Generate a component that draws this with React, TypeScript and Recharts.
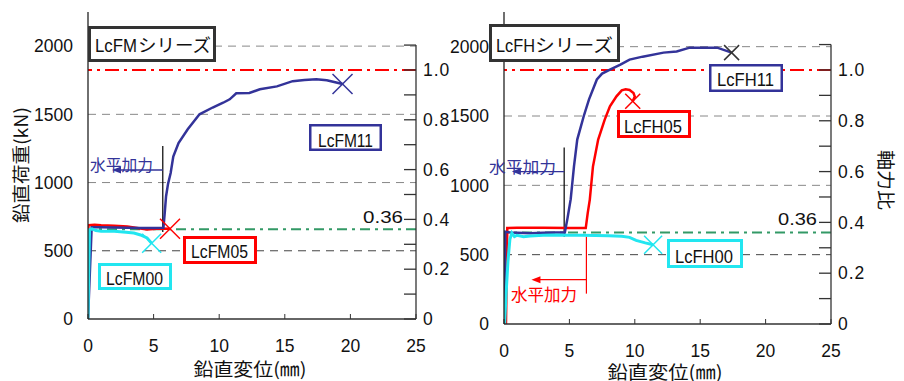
import React from 'react';
import { LineChart, Line, XAxis, YAxis, ReferenceLine } from 'recharts';

type P = [number, number];

// ---- axes ----
const xTicks = [0, 5, 10, 15, 20, 25];
const loadTicks = [0, 500, 1000, 1500, 2000];
const ratioTicks = [0, 0.1, 0.2, 0.3, 0.4, 0.5, 0.6, 0.7, 0.8, 0.9, 1.0, 1.1];
const gridLoads = [500, 1000, 1500, 2000];
const loadMax = 2250;
const ratioTop = 1.1;
const ratioFull = 1.0;
const ratioLimit = 0.36;
const n0Left = 1825;
const n0Right = 1832;

// ---- LcFM series (vertical displacement mm, vertical load kN) ----
const fm11: P[] = [
  [0, 0], [0.28, 672], [1, 672], [2, 670], [3, 668], [4, 667], [5, 667], [5.75, 668],
  [5.85, 780], [5.95, 900], [6.1, 990], [6.3, 1070], [6.5, 1190], [6.9, 1290], [7.6, 1390],
  [8.5, 1500], [9.5, 1550], [10.3, 1585], [10.8, 1610], [11.3, 1654], [12.3, 1656],
  [13.1, 1684], [14.4, 1705], [15.6, 1743], [16.5, 1752], [17.4, 1757], [18.2, 1750], [19.4, 1722],
];
const fm05: P[] = [
  [0, 0], [0.03, 688], [0.5, 690], [1, 687], [2, 684], [3, 678], [4, 664], [4.5, 656],
  [5, 660], [5.5, 664], [6.25, 662],
];
const fm00: P[] = [
  [0, 0], [0.05, 320], [0.12, 655], [0.3, 660], [0.6, 648], [1, 644], [2, 643], [2.9, 636],
  [3.5, 630], [4, 616], [4.5, 594], [4.85, 555],
];

// ---- LcFH series ----
const fh11: P[] = [
  [0, 0], [0.1, 665], [0.5, 660], [1, 658], [2, 655], [3, 658], [4, 660], [4.65, 660],
  [4.85, 760], [5.1, 900], [5.35, 1137], [5.6, 1330], [6.1, 1500], [6.5, 1620], [7.1, 1763],
  [7.5, 1806], [8.1, 1835], [8.9, 1871], [9.6, 1907], [10.6, 1928], [12.2, 1957],
  [13.2, 1965], [14.2, 1993], [16.3, 1993], [17.4, 1957],
];
const fh05: P[] = [
  [0.15, 0], [0.25, 692], [1, 694], [3, 694], [5, 692], [6.25, 692], [6.4, 800], [6.56, 897],
  [6.8, 1135], [7.2, 1330], [7.7, 1474], [8.1, 1570], [8.6, 1642], [9.0, 1685], [9.3, 1692],
  [9.6, 1688], [9.9, 1666], [10.0, 1640], [9.84, 1606],
];
const fh00: P[] = [
  [0.05, 0], [0.15, 200], [0.3, 450], [0.45, 610], [0.6, 656], [0.8, 630], [1, 640], [1.5, 630],
  [2, 635], [3, 640], [4, 642], [5, 640], [6, 640], [7, 638], [8, 636], [9, 633], [9.6, 625],
  [10.1, 603], [10.8, 585], [11.4, 572],
];

// ---- annotations (data coords) ----
const leftMark = { x: 5.7, lo: 638, hi: 1268, arrowY: 1092, arrowTo: 1.83 };
const rightMarkBlue = { x: 4.6, lo: 630, hi: 1272, arrowY: 1099, arrowTo: 0.6 };
const rightMarkRed = { x: 6.3, lo: 219, hi: 630, arrowY: 320, arrowTo: 2.1 };

const NAVY = '#333399';
const RED = '#ff0000';
const CYAN = '#22e6f0';
const GREEN = '#339966';
const NUM_FONT = "'Liberation Sans', Arial, sans-serif";
const JP_FONT = "'Noto Sans CJK JP', 'Noto Sans', sans-serif";

const toPts = (a: P[]) => a.map(([d, p]) => ({ d, p }));

const endMark = (len: number, color: string, half: number) => (props: any) => {
  const { cx, cy, index } = props;
  if (index !== len - 1 || cx == null) return <g key={`m${index}`} />;
  return (
    <g key={`m${index}`}>
      <line x1={cx - half} y1={cy - half} x2={cx + half} y2={cy + half} stroke={color} strokeWidth={1.5} />
      <line x1={cx - half} y1={cy + half} x2={cx + half} y2={cy - half} stroke={color} strokeWidth={1.5} />
    </g>
  );
};

const arrowShape = (color: string) => (props: any) => {
  const { x1, y1, x2, y2 } = props;
  return (
    <g>
      <line x1={x1} y1={y1} x2={x2 + 4} y2={y2} stroke={color} strokeWidth={1.3} />
      <polygon points={`${x2},${y2} ${x2 + 9},${y2 - 3.5} ${x2 + 9},${y2 + 3.5}`} fill={color} />
    </g>
  );
};

const ratioFmt = (v: number) => {
  const t = Math.round(v * 10);
  if (t % 2 !== 0 || t > 10) return '';
  return t === 0 ? '0' : v.toFixed(1);
};

type SeriesDef = { data: P[]; color: string; width: number; half: number; markColor?: string };
type MarkDef = { x: number; lo: number; hi: number; arrowY: number; arrowTo: number; color: string; arrowColor: string };

function Panel(props: {
  width: number; height: number; margin: any; leftWidth: number; n0: number;
  series: SeriesDef[]; marks: MarkDef[];
}) {
  const { width, height, margin, leftWidth, n0, series, marks } = props;
  return (
    <LineChart width={width} height={height} margin={margin}>
      <XAxis
        type="number" dataKey="d" domain={[0, 25]} ticks={xTicks} allowDataOverflow
        tickSize={-5} tickMargin={26} stroke="#333" axisLine={{ stroke: '#333', strokeWidth: 1.3 }}
        tick={{ fontSize: 17.5, fill: '#111', fontFamily: NUM_FONT }} height={40}
      />
      <YAxis
        yAxisId="l" type="number" domain={[0, loadMax]} ticks={loadTicks} allowDataOverflow
        tickLine={false} tickSize={0} tickMargin={15} width={leftWidth}
        axisLine={{ stroke: '#222', strokeWidth: 1.3 }}
        tick={{ fontSize: 17.5, fill: '#111', fontFamily: NUM_FONT }}
      />
      <YAxis
        yAxisId="r" orientation="right" type="number" domain={[0, loadMax / n0]} ticks={ratioTicks}
        allowDataOverflow axisLine={false} tickSize={-12} tickMargin={19} width={40}
        tickLine={{ stroke: '#333', strokeWidth: 1.3 }} tickFormatter={ratioFmt} interval={0}
        tick={{ fontSize: 17.5, fill: '#111', fontFamily: NUM_FONT, letterSpacing: 1 }}
      />
      {gridLoads.map((v) => (
        <ReferenceLine key={`g${v}`} yAxisId="l" y={v} stroke={v === 500 ? '#444' : '#888'}
          strokeWidth={1} strokeDasharray="8 6" />
      ))}
      <ReferenceLine yAxisId="r" y={ratioFull} stroke={RED} strokeWidth={2} strokeDasharray="14 5 3 5" />
      <ReferenceLine yAxisId="r" y={ratioLimit} stroke={GREEN} strokeWidth={2} strokeDasharray="10 5 3 5" />
      <ReferenceLine yAxisId="r" ifOverflow="visible" stroke="#333" strokeWidth={1.3}
        segment={[{ x: 25, y: 0 }, { x: 25, y: ratioTop }]} />
      {marks.map((m, i) => (
        <ReferenceLine key={`v${i}`} yAxisId="l" ifOverflow="visible" stroke={m.color} strokeWidth={1.2}
          segment={[{ x: m.x, y: m.lo }, { x: m.x, y: m.hi }]} />
      ))}
      {marks.map((m, i) => (
        <ReferenceLine key={`a${i}`} yAxisId="l" ifOverflow="visible" shape={arrowShape(m.arrowColor)}
          segment={[{ x: m.x, y: m.arrowY }, { x: m.arrowTo, y: m.arrowY }]} />
      ))}
      {series.map((s, i) => (
        <Line key={`s${i}`} yAxisId="l" data={toPts(s.data)} dataKey="p" type="linear"
          stroke={s.color} strokeWidth={s.width} isAnimationActive={false}
          dot={endMark(s.data.length, s.markColor || s.color, s.half)} activeDot={false} />
      ))}
    </LineChart>
  );
}

function Box(p: { x: number; y: number; w: number; h: number; sw: number; color: string }) {
  return (
    <rect x={p.x + p.sw / 2} y={p.y + p.sw / 2} width={p.w - p.sw} height={p.h - p.sw}
      fill="#fff" stroke={p.color} strokeWidth={p.sw} />
  );
}

function T(p: { x: number; y: number; len: number; size: number; font: string; color?: string; children: string; anchor?: string; transform?: string }) {
  return (
    <text x={p.x} y={p.y} fontSize={p.size} fontFamily={p.font} fill={p.color || '#111'}
      textLength={p.len} lengthAdjust="spacingAndGlyphs" textAnchor={p.anchor || 'start'} transform={p.transform}>
      {p.children}
    </text>
  );
}

export default function App() {
  return (
    <div style={{ position: 'absolute', left: 0, top: 0, width: 904, height: 381, background: '#fff', overflow: 'hidden' }}>
      <div style={{ position: 'absolute', left: 0, top: 0 }}>
        <Panel width={470} height={381} margin={{ top: 12, right: 14, bottom: 22, left: 0 }} leftWidth={88} n0={n0Left}
          series={[
            { data: fm05, color: RED, width: 2.5, half: 10 },
            { data: fm11, color: NAVY, width: 2.5, half: 10 },
            { data: fm00, color: CYAN, width: 3, half: 9.5 },
          ]}
          marks={[{ ...leftMark, color: '#000', arrowColor: NAVY }]}
        />
      </div>
      <div style={{ position: 'absolute', left: 450, top: 0 }}>
        <Panel width={454} height={381} margin={{ top: 12, right: 33, bottom: 17, left: 0 }} leftWidth={54} n0={n0Right}
          series={[
            { data: fh05, color: RED, width: 2.5, half: 7.5 },
            { data: fh11, color: NAVY, width: 2.5, half: 7.5, markColor: '#333' },
            { data: fh00, color: CYAN, width: 3, half: 9 },
          ]}
          marks={[
            { ...rightMarkBlue, color: '#000', arrowColor: NAVY },
            { ...rightMarkRed, color: RED, arrowColor: RED },
          ]}
        />
      </div>
      <svg width={904} height={381} style={{ position: 'absolute', left: 0, top: 0, pointerEvents: 'none' }}>
        {/* left panel labels */}
        <Box x={88} y={26} w={128} h={36} sw={3} color="#333" />
        <T x={95} y={52} len={42} size={19} font={NUM_FONT}>LcFM</T>
        <T x={138} y={52} len={73} size={18} font={JP_FONT}>シリーズ</T>
        <Box x={309} y={124} w={73} h={27} sw={2.5} color={NAVY} />
        <T x={318} y={147} len={55} size={19} font={NUM_FONT}>LcFM11</T>
        <Box x={183} y={236} w={74} h={28} sw={3} color={RED} />
        <T x={191} y={258} len={57} size={19} font={NUM_FONT}>LcFM05</T>
        <Box x={98} y={263} w={74} h={27} sw={3} color={CYAN} />
        <T x={106} y={285} len={57} size={19} font={NUM_FONT}>LcFM00</T>
        <T x={363} y={223} len={40} size={17} font={NUM_FONT}>0.36</T>
        <T x={90} y={171} len={63} size={16} font={JP_FONT} color={NAVY}>水平加力</T>
        <T x={250} y={376} len={113} size={18} font={JP_FONT} anchor="middle">鉛直変位(㎜)</T>
        <T x={0} y={0} len={116} size={18} font={JP_FONT} anchor="middle" transform="translate(28,165) rotate(-90)">鉛直荷重(kN)</T>

        {/* right panel labels */}
        <Box x={489} y={24} w={131} h={38} sw={3} color="#333" />
        <T x={496} y={52} len={39} size={19} font={NUM_FONT}>LcFH</T>
        <T x={535} y={52} len={78} size={18} font={JP_FONT}>シリーズ</T>
        <Box x={709} y={64} w={74} h={28} sw={2.5} color={NAVY} />
        <T x={717} y={86} len={57} size={19} font={NUM_FONT}>LcFH11</T>
        <Box x={617} y={110} w={74} h={28} sw={3} color={RED} />
        <T x={624} y={133} len={58} size={19} font={NUM_FONT}>LcFH05</T>
        <Box x={667} y={239} w={76} h={29} sw={3} color={CYAN} />
        <T x={675} y={263} len={58} size={19} font={NUM_FONT}>LcFH00</T>
        <T x={778} y={225} len={39} size={17} font={NUM_FONT}>0.36</T>
        <T x={489} y={173} len={67} size={16} font={JP_FONT} color={NAVY}>水平加力</T>
        <T x={511} y={301} len={66} size={17} font={JP_FONT} color={RED}>水平加力</T>
        <T x={665} y={379} len={115} size={18} font={JP_FONT} anchor="middle">鉛直変位(㎜)</T>
        <T x={0} y={0} len={60} size={18} font={JP_FONT} anchor="middle" transform="translate(879,180) rotate(90)">軸力比</T>
      </svg>
    </div>
  );
}
